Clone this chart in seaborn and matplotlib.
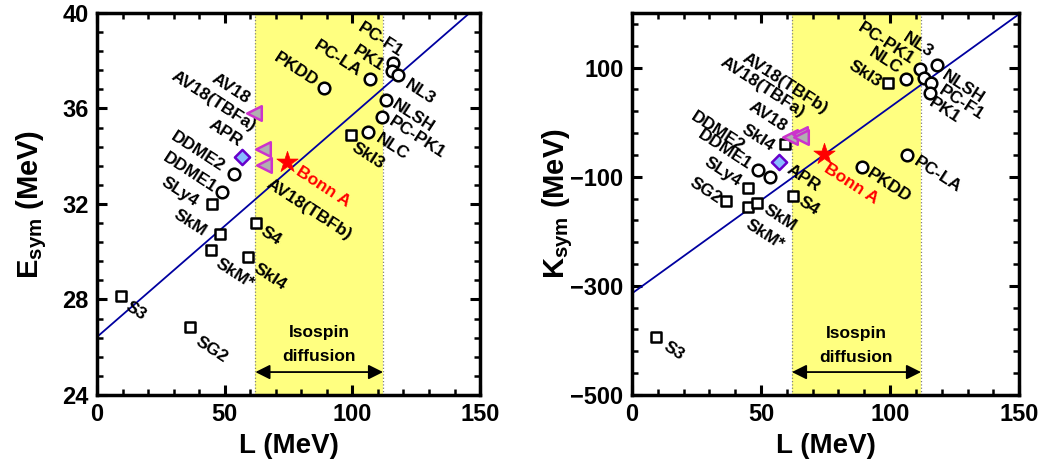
import numpy as np
import matplotlib
matplotlib.use('Agg')
import matplotlib.pyplot as plt
from matplotlib.ticker import MultipleLocator, FixedLocator
import seaborn as sns

# --- data ---
skyrme_names = ['S3', 'SG2', 'SkM*', 'SkM', 'SLy4', 'S4', 'SkI4', 'SkI3']
skyrme_L = [9.2, 36.6, 44.8, 48.3, 45.0, 62.3, 59.3, 99.3]
skyrme_Esym = [28.15, 26.85, 30.07, 30.74, 32.0, 31.2, 29.78, 34.9]
skyrme_Ksym = [-394, -144, -156, -149, -120, -136, -40, 72]

rmf_names = ['DDME2', 'DDME1', 'PKDD', 'PC-LA', 'NLC', 'PC-PK1', 'NLSH', 'PC-F1', 'PK1', 'NL3']
rmf_L = [49.0, 53.5, 89.0, 106.7, 106.2, 111.5, 113.0, 115.9, 115.5, 118.0]
rmf_Esym = [32.5, 33.25, 36.86, 37.24, 35.0, 35.64, 36.36, 37.9, 37.55, 37.4]
rmf_Ksym = [-87, -100, -82, -60, 79, 98, 81, 72, 54, 105]

av18_names = ['AV18', 'AV18(TBFa)', 'AV18(TBFb)']
av18_L = [61.3, 65.0, 65.5]
av18_Esym = [35.8, 34.3, 33.63]
av18_Ksym = [-27, -21, -28]

apr_L, apr_Esym, apr_Ksym = [56.8], [33.97], [-74]
bonn_L, bonn_Esym, bonn_Ksym = [74.5], [33.76], [-58]

# correlation lines (end points)
line_L = [0, 150]
line_Esym = [26.43, 40.38]
line_Ksym = [-314, 198]

# isospin diffusion band
band_L = [62, 112]

# label positions: (text, L, y, ha)
labels_E = [
    ('AV18', 59.1, 36.36, 'right'), ('AV18(TBFa)', 61.8, 35.18, 'right'),
    ('APR', 56.2, 34.55, 'right'), ('DDME2', 49.3, 33.5, 'right'),
    ('DDME1', 46.2, 32.6, 'right'), ('SLy4', 39.0, 32.04, 'right'),
    ('SkM', 42.3, 30.8, 'right'), ('SkM*', 47.0, 29.57, 'left'),
    ('S3', 11.7, 27.77, 'left'), ('SG2', 39.1, 26.3, 'left'),
    ('S4', 64.6, 30.9, 'left'), ('SkI4', 61.8, 29.36, 'left'),
    ('AV18(TBFb)', 66.9, 32.9, 'left'), ('PKDD', 86.0, 37.07, 'right'),
    ('PC-LA', 103.0, 37.5, 'right'), ('PK1', 112.0, 37.7, 'right'),
    ('PC-F1', 119.4, 38.3, 'right'), ('NL3', 121.3, 37.07, 'left'),
    ('NLSH', 115.9, 36.2, 'left'), ('PC-PK1', 114.7, 35.5, 'left'),
    ('NLC', 109.6, 34.8, 'left'), ('SkI3', 100.2, 34.4, 'left'),
]
labels_K = [
    ('AV18(TBFb)', 75.2, 21, 'right'), ('AV18(TBFa)', 66.3, 15, 'right'),
    ('AV18', 59.3, -12, 'right'), ('SkI4', 54.7, -47, 'right'),
    ('DDME2', 43.0, -47, 'right'), ('DDME1', 45.7, -81, 'right'),
    ('SLy4', 41.9, -112, 'right'), ('SG2', 34.1, -143, 'right'),
    ('APR', 60.5, -85, 'left'), ('S4', 65.1, -143, 'left'),
    ('SkM', 51.6, -158, 'left'), ('SkM*', 44.6, -186, 'left'),
    ('S3', 12.8, -409, 'left'), ('PKDD', 91.5, -92, 'left'),
    ('PC-LA', 109.7, -70, 'left'), ('NL3', 116.3, 125, 'right'),
    ('PC-PK1', 109.0, 112, 'right'), ('NLC', 103.9, 94, 'right'),
    ('SkI3', 96.1, 70, 'right'), ('NLSH', 120.5, 88, 'left'),
    ('PC-F1', 119.4, 61, 'left'), ('PK1', 115.5, 39, 'left'),
]
bonn_label_E = (78.3, 33.4)
bonn_label_K = (74.8, -83)

sns.set_style('ticks')
plt.rcParams['font.family'] = ['Liberation Sans', 'DejaVu Sans']
plt.rcParams['font.weight'] = 'bold'
plt.rcParams['mathtext.fontset'] = 'custom'
plt.rcParams['mathtext.rm'] = 'Liberation Sans:bold'
plt.rcParams['mathtext.it'] = 'Liberation Sans:bold'
for key in ['text.color', 'axes.labelcolor', 'xtick.color', 'ytick.color',
            'axes.edgecolor']:
    plt.rcParams[key] = 'black'

fig = plt.figure(figsize=(10.41, 4.74), dpi=100)
ax1 = fig.add_axes([0.0932, 0.1667, 0.368, 0.806])
ax2 = fig.add_axes([0.607, 0.1667, 0.372, 0.806])


def draw_panel(ax, yvals, ylim, labels, bonn_lab, line_y, arrow_y, text_y):
    sky_y, rmf_y, av_y, apr_y, bonn_y = yvals
    ax.axvspan(band_L[0], band_L[1], color='#ffff80', zorder=0, lw=0)
    for xv in band_L:
        ax.axvline(xv, color='gray', ls=':', lw=0.9, zorder=1)
    sns.lineplot(x=line_L, y=line_y, color='#0000a0', lw=1.3, ax=ax, zorder=2)
    sns.scatterplot(x=skyrme_L, y=sky_y, marker='s', s=55, color='white',
                    edgecolor='black', linewidth=1.8, ax=ax, zorder=4)
    sns.scatterplot(x=rmf_L, y=rmf_y, marker='o', s=70, color='white',
                    edgecolor='black', linewidth=1.8, ax=ax, zorder=4)
    sns.scatterplot(x=av18_L, y=av_y, marker='<', s=110, color='#b0b0b0',
                    edgecolor='#cc33cc', linewidth=1.8, ax=ax, zorder=5)
    sns.scatterplot(x=apr_L, y=apr_y, marker='D', s=60, color='#88bbff',
                    edgecolor='#6600cc', linewidth=1.8, ax=ax, zorder=5)
    sns.scatterplot(x=bonn_L, y=bonn_y, marker='*', s=260, color='red',
                    edgecolor='red', linewidth=0.5, ax=ax, zorder=6)
    for txt, lx, ly, ha in labels:
        ax.text(lx, ly, txt, rotation=-33, rotation_mode='anchor', ha=ha,
                va='center', fontsize=12.5, fontweight='bold', zorder=7)
    ax.text(bonn_lab[0], bonn_lab[1], 'Bonn A', color='red', rotation=-33,
            rotation_mode='anchor', ha='left', va='center', fontsize=12.5,
            fontweight='bold', zorder=7)
    ax.annotate('', xy=(band_L[0], arrow_y), xytext=(band_L[1], arrow_y),
                arrowprops=dict(arrowstyle='<|-|>', color='black', lw=1.3,
                                mutation_scale=22, shrinkA=0, shrinkB=0))
    ax.text(np.mean(band_L), text_y[0], 'Isospin', ha='center', va='center',
            fontsize=12.5, fontweight='bold')
    ax.text(np.mean(band_L), text_y[1], 'diffusion', ha='center', va='center',
            fontsize=12.5, fontweight='bold')
    ax.set_xlim(0, 150)
    ax.set_ylim(*ylim)
    ax.xaxis.set_major_locator(MultipleLocator(50))
    ax.xaxis.set_minor_locator(MultipleLocator(10))
    ax.tick_params(which='both', direction='in', top=True, right=True,
                   labelsize=17)
    ax.tick_params(which='major', length=7, width=2.2, pad=6)
    ax.tick_params(which='minor', length=4, width=1.8)
    for sp in ax.spines.values():
        sp.set_linewidth(2.5)
        sp.set_visible(True)
    ax.set_xlabel('L (MeV)', fontsize=20, fontweight='bold', labelpad=5)


def narrow_ticks(ax):
    for lab in ax.get_xticklabels() + ax.get_yticklabels():
        lab.set_fontweight('bold')
        lab.set_family(['Liberation Sans Narrow', 'Liberation Sans'])


draw_panel(ax1, (skyrme_Esym, rmf_Esym, av18_Esym, apr_Esym, bonn_Esym),
           (24, 40), labels_E, bonn_label_E, line_Esym, 24.96, (26.6, 25.63))
ax1.yaxis.set_major_locator(MultipleLocator(4))
ax1.yaxis.set_minor_locator(MultipleLocator(0.8))
ax1.set_ylabel(r'E$_{\rm sym}$ (MeV)', fontsize=21, fontweight='bold')
ax1.yaxis.set_label_coords(-0.125, 0.5)
narrow_ticks(ax1)

draw_panel(ax2, (skyrme_Ksym, rmf_Ksym, av18_Ksym, apr_Ksym, bonn_Ksym),
           (-500, 200), labels_K, bonn_label_K, line_Ksym, -458, (-387, -431))
ax2.yaxis.set_major_locator(FixedLocator([-500, -300, -100, 100]))
ax2.yaxis.set_minor_locator(FixedLocator(np.arange(-500, 201, 40)))
ax2.set_ylabel(r'K$_{\rm sym}$ (MeV)', fontsize=21, fontweight='bold')
ax2.yaxis.set_label_coords(-0.148, 0.5)
narrow_ticks(ax2)

fig.savefig('out.png', dpi=100)
